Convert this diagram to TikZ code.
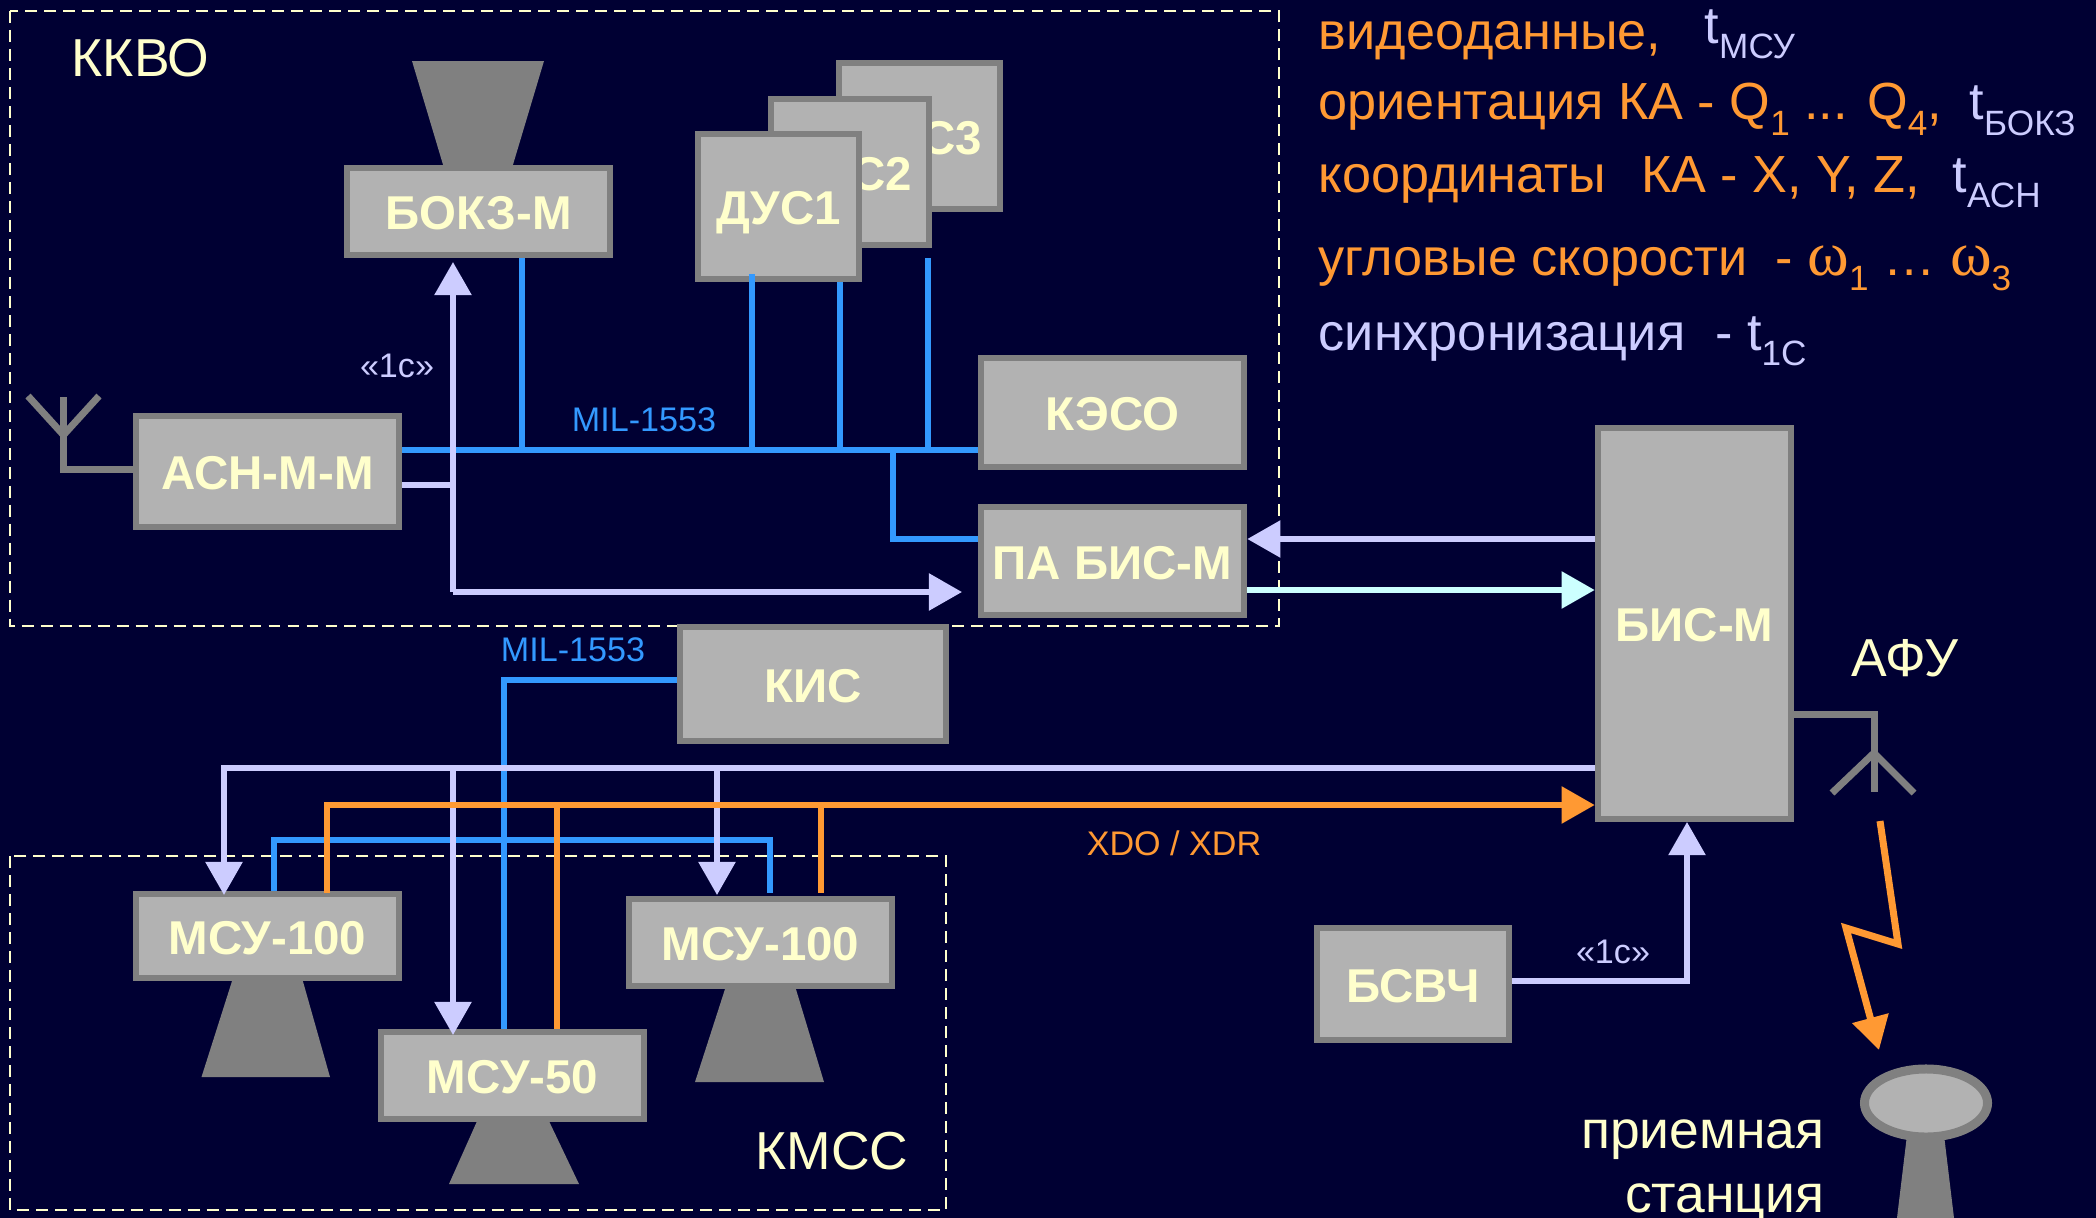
\documentclass[tikz,border=0pt]{standalone}
\usepackage{fontspec}
\setmainfont{Liberation Sans}
\newfontfamily\greekfont{Liberation Serif}
\usetikzlibrary{arrows.meta, calc, shapes.geometric}
\definecolor{bgnavy}{HTML}{000033}
\definecolor{boxgray}{HTML}{B2B2B2}
\definecolor{edgegray}{HTML}{808080}
\definecolor{paleyellow}{HTML}{FFFFCC}
\definecolor{lavender}{HTML}{CCCCFF}
\definecolor{palecyan}{HTML}{CCFFFF}
\definecolor{busblue}{HTML}{3399FF}
\definecolor{dataorange}{HTML}{FF9933}
\newcommand{\lowsub}[1]{\raisebox{-4.3pt}{\fontsize{10}{11}\selectfont #1}}
\newcommand{\omegasign}{{\greekfont\fontsize{18}{20}\selectfont ω}}
\tikzset{
    blockbox/.style={draw=edgegray, fill=boxgray, line width=.06cm, inner sep=0pt, minimum width=2.635cm, text=paleyellow, text height=10.3pt, text depth=0pt, font=\fontsize{13.5}{15}\selectfont\bfseries},
    zonebox/.style={draw=paleyellow, line width=.02cm, dash pattern=on 3.4pt off 2pt},
    zonelabel/.style={text=paleyellow, inner sep=0pt, anchor=base west, font=\fontsize{15.2}{17}\selectfont},
    legendline/.style={text=dataorange, inner sep=0pt, anchor=base west, font=\fontsize{14.85}{17}\selectfont},
    smalllabel/.style={inner sep=0pt, font=\fontsize{9.7}{11}\selectfont},
    bigtip/.style={-{Triangle[length=.33cm,width=.36cm]}},
    busline/.style={busblue, line width=.055cm},
    syncline/.style={lavender, line width=.055cm},
    dataline/.style={dataorange, line width=.055cm},
    antenna/.style={edgegray, line width=.07cm},
}
\begin{document}
\begin{tikzpicture}[x=.01cm, y=-.01cm]
    \fill[bgnavy] (0,0) rectangle (2096,1218);
    \useasboundingbox (0,0) rectangle (2096,1218);
    % zones
    \draw[zonebox] (10,11) rectangle (1279,626);
    \draw[zonebox] (10,856) rectangle (946,1210);
    \node[zonelabel] (kkvo) at (71,76) {ККВО};
    \node[zonelabel] (kmss) at (755,1169) {КМСС};
    % camera cones
    \foreach \ax/\bx/\cx/\dx/\ty/\by in {412/544/512/444/61/168, 233/302/330/201.5/978/1077, 726/795/824/695/986/1082, 478/548/579/449/1119/1184} {
        \fill[edgegray] (\ax,\ty) -- (\bx,\ty) -- (\cx,\by) -- (\dx,\by) -- cycle;
    }
    % blocks
    \foreach \n/\x/\y/\w in {3/919.5/136/1.6cm, 2/850/172/1.57cm, 1/778.5/206.5/1.6cm} {
        \node[blockbox, minimum width=\w, minimum height=1.45cm] (DUS\n) at (\x,\y) {ДУС\n};
    }
    \node[blockbox, minimum height=.875cm] (BOKZ) at (478.5,211.5) {БОКЗ-М};
    \node[blockbox, minimum height=1.115cm] (ASN) at (267.5,471.5) {АСН-М-М};
    \node[blockbox, minimum height=1.095cm] (KESO) at (1112.5,412.5) {КЭСО};
    \node[blockbox, minimum height=1.085cm] (PABIS) at (1112.5,561) {ПА БИС-М};
    \node[blockbox, minimum width=1.935cm, minimum height=3.915cm] (BIS) at (1694.5,623.5) {БИС-М};
    \node[blockbox, minimum width=2.665cm, minimum height=1.145cm] (KIS) at (813,684) {КИС};
    \node[blockbox, minimum height=.845cm] (MSUa) at (267.5,936) {МСУ-100};
    \node[blockbox, minimum height=.875cm] (MSUb) at (760.5,942.5) {МСУ-100};
    \node[blockbox, minimum height=.875cm] (MSUc) at (512.5,1075.5) {МСУ-50};
    \node[blockbox, minimum width=1.925cm, minimum height=1.125cm] (BSVCH) at (1413,984) {БСВЧ};
    % bus on top
    \coordinate (busleft) at (402,450);
    \draw[busline] (ASN.east |- busleft) -- (KESO.west |- busleft);
    \draw[busline] (BOKZ.south -| 522,0) -- (522,450);
    \draw[busline] (752,274) -- (752,450);
    \draw[busline] (DUS1.south -| 840,0) -- (840,450);
    \draw[busline] (928,258) -- (928,450);
    \draw[busline] (893,450) -- (893,539) -- (PABIS.west |- 0,539);
    \node[smalllabel, text=busblue] (milup) at (644,420) {MIL-1553};
    \draw[busline] (KIS.west |- 0,680) -- (504,680) -- (504,0 |- MSUc.north);
    \node[smalllabel, text=busblue] (mildown) at (573,650) {MIL-1553};
    \draw[busline] (274,0 |- MSUa.north) -- (274,840) -- (770,840) -- (770,893);
    % sync lines
    \draw[syncline] (ASN.east |- 0,485) -- (453,485);
    \draw[syncline, bigtip] (453,592) -- (453,262);
    \draw[syncline, bigtip] (453,592) -- (962,592);
    \node[smalllabel, text=lavender] (synca) at (397,366) {«1с»};
    \draw[syncline, bigtip] (BIS.west |- 0,539) -- (PABIS.east |- 0,539);
    \draw[palecyan, line width=.055cm, bigtip] (PABIS.east |- 0,590) -- (BIS.west |- 0,590);
    \draw[syncline, bigtip] (BIS.west |- 0,768) -- (224,768) -- (224,895);
    \draw[syncline, bigtip] (453,768) -- (453,1035);
    \draw[syncline, bigtip] (717,768) -- (717,895);
    \draw[syncline, bigtip] (BSVCH.east |- 0,981) -- (1687,981) -- (1687,822);
    \node[smalllabel, text=lavender] (syncb) at (1613,952) {«1с»};
    % video data
    \draw[dataline, bigtip] (327,893) -- (327,805) -- (BIS.west |- 0,805);
    \draw[dataline] (557,805) -- (557,0 |- MSUc.north);
    \draw[dataline] (821,805) -- (821,893);
    \node[smalllabel, text=dataorange] (xdo) at (1174,843) {XDO / XDR};
    % antennas
    \draw[antenna] (ASN.west |- 0,469) -- (63.5,469) -- (63.5,397);
    \draw[antenna] (28,396) -- (63.5,435) -- (99,396);
    \draw[antenna] (BIS.east |- 0,714) -- (1874,714) -- (1874,792);
    \draw[antenna] (1832,793) -- (1874,753) -- (1914,793);
    \node[zonelabel, anchor=center] (afu) at (1905,658) {АФУ};
    % downlink
    \draw[dataorange, line width=.07cm, -{Triangle[length=.33cm,width=.36cm]}] (1880,821) -- (1898,944) -- (1846,928) -- (1879,1050);
    % ground station
    \fill[edgegray] (1907,1135) -- (1944,1135) -- (1954,1218) -- (1897,1218) -- cycle;
    \node[draw=edgegray, fill=boxgray, ellipse, line width=.09cm, minimum width=1.23cm, minimum height=.68cm, inner sep=0pt] (dish) at (1926,1103) {};
    \node[zonelabel, anchor=base east] (recva) at (1825,1148) {приемная};
    \node[zonelabel, anchor=base east] (recvb) at (1825,1212) {станция};
    % legend
    \node[legendline] (lega) at (1318,50) {видеоданные,};
    \node[legendline, text=lavender] (legat) at (1704,43) {t\lowsub{МСУ}};
    \node[legendline] (legb) at (1318,120) {ориентация КА - Q\lowsub{1} ... Q\lowsub{4},};
    \node[legendline, text=lavender] (legbt) at (1969,120) {t\lowsub{БОКЗ}};
    \node[legendline] (legc) at (1318,192) {координаты\hspace{10pt}КА - X, Y, Z,};
    \node[legendline, text=lavender] (legct) at (1952,192) {t\lowsub{АСН}};
    \node[legendline] (legd) at (1318,275) {угловые скорости\hspace{8pt}- \omegasign\lowsub{1} … \omegasign\lowsub{3}};
    \node[legendline, text=lavender] (lege) at (1318,350) {синхронизация\hspace{8.5pt}- t\lowsub{1С}};
\end{tikzpicture}
\end{document}
